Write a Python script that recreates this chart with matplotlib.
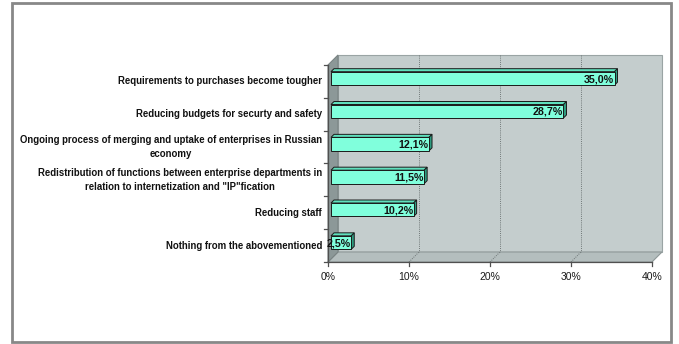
import matplotlib.pyplot as plt
from matplotlib.patches import Polygon, Rectangle

plt.rcParams['font.family'] = ['Liberation Sans', 'DejaVu Sans']

categories = [
    "Requirements to purchases become tougher",
    "Reducing budgets for securty and safety",
    "Ongoing process of merging and uptake of enterprises in Russian\neconomy",
    "Redistribution of functions between enterprise departments in\nrelation to internetization and \"IP\"fication",
    "Reducing staff",
    "Nothing from the abovementioned",
]
values = [35.0, 28.7, 12.1, 11.5, 10.2, 2.5]
value_labels = ["35,0%", "28,7%", "12,1%", "11,5%", "10,2%", "2,5%"]
ticks = [0, 10, 20, 30, 40]
tick_labels = ["0%", "10%", "20%", "30%", "40%"]

W, H = 679, 344
fig = plt.figure(figsize=(W / 100, H / 100), dpi=100)
ax = fig.add_axes([0, 0, 1, 1])

# pixel position of 0% / first category and pixels per unit
x0, xs = 328, 8.1
y0, ys = 65, 32.83
ax.set_xlim(-x0 / xs, (W - x0) / xs)
ax.set_ylim((H - y0) / ys, -y0 / ys)
ax.axis('off')

n = len(categories)
xmax = ticks[-1]
DX, DY = 10 / xs, -10 / ys   # depth of the 3d box


def shift(pts, k):
    return [(x + DX * k, y + DY * k) for x, y in pts]


# walls
back = shift([(0, 0), (xmax, 0), (xmax, n), (0, n)], 1)
ax.add_patch(Polygon(back, closed=True, fc='#c4cdcd', ec='#9aa4a4', lw=0.8, zorder=1))
floor = [(0, n), (xmax, n), (xmax + DX, n + DY), (DX, n + DY)]
ax.add_patch(Polygon(floor, closed=True, fc='#b4bebe', ec='#8e9898', lw=0.8, zorder=1))
left = [(0, 0), (DX, DY), (DX, n + DY), (0, n)]
ax.add_patch(Polygon(left, closed=True, fc='#8c9898', ec='#7a8484', lw=0.8, zorder=1))

# gridlines on back wall and floor
for t in ticks[1:-1]:
    ax.plot([t + DX, t + DX], [DY, n + DY], ls=(0, (1, 1.2)), color='#707878', lw=0.7, zorder=2)
    ax.plot([t, t + DX], [n, n + DY], ls=(0, (1, 1.2)), color='#707878', lw=0.7, zorder=2)

# axis lines and ticks
ax.plot([0, 0], [0, n], color='#505050', lw=0.9, zorder=3)
ax.plot([0, xmax], [n, n], color='#505050', lw=0.9, zorder=3)
for i in range(n + 1):
    ax.plot([0, -4 / xs], [i, i], color='#505050', lw=0.9, zorder=3)
for t, lab in zip(ticks, tick_labels):
    ax.plot([t, t], [n, n + 4 / ys], color='#505050', lw=0.9, zorder=3)
    ax.text(t, n + 15 / ys, lab, ha='center', va='center', fontsize=7.5, color='#1a1a1a')

# bars
d1, d2 = 0.3, 0.6
h = 0.205
for i, (v, lab) in enumerate(zip(values, value_labels)):
    c = i + 0.5
    front = shift([(0, c - h), (v, c - h), (v, c + h), (0, c + h)], d1)
    top = shift([(0, c - h), (v, c - h)], d1) + shift([(v, c - h), (0, c - h)], d2)
    side = shift([(v, c - h), (v, c + h)], d1) + shift([(v, c + h), (v, c - h)], d2)
    ax.add_patch(Polygon(top, closed=True, fc='#5fe0bd', ec='#1a1a1a', lw=0.7, zorder=4))
    ax.add_patch(Polygon(side, closed=True, fc='#2f9c80', ec='#1a1a1a', lw=0.7, zorder=4))
    ax.add_patch(Polygon(front, closed=True, fc='#80ffdc', ec='#1a1a1a', lw=0.7, zorder=5))
    ax.text(v + DX * d1 - 0.05, c + DY * d1 + 0.02, lab, ha='right', va='center',
            fontsize=7.7, fontweight='bold', color='#111111', zorder=6)

# category labels
for i, cat in enumerate(categories):
    ax.text(-6 / xs, i + 0.5, cat, ha='right', va='center', multialignment='center',
            fontsize=6.9, fontweight='bold', color='#111111', linespacing=1.45)

# outer frame
fig.add_artist(Rectangle((12 / W, 1 - 342 / H), (671 - 12) / W, (342 - 3) / H,
                         transform=fig.transFigure, fill=False, ec='#888888', lw=2))

fig.savefig('out.png', dpi=100)
